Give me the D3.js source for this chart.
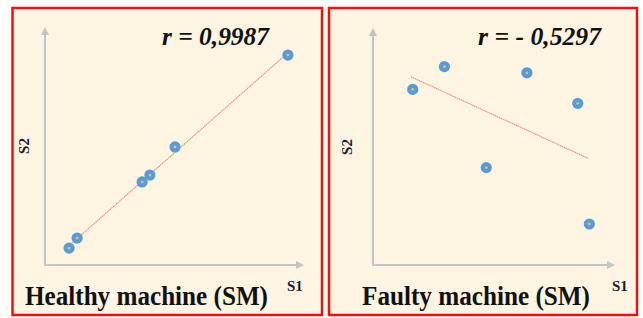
<!DOCTYPE html>
<html>
<head>
<meta charset="utf-8">
<script src="https://cdn.jsdelivr.net/npm/d3@7"></script>
<style>
  body { margin: 0; background: #ffffff; }
  svg { display: block; }
</style>
</head>
<body>
<div class="container-chart"></div>
<script>

// data (arbitrary units, 0..10 on both axes)
var healthyS1 = [0.93, 1.24, 3.75, 4.05, 5.02, 9.38];
var healthyS2 = [0.71, 1.13, 3.49, 3.78, 4.96, 8.82];
var faultyS1 = [1.64, 2.95, 6.36, 8.46, 4.68, 8.94];
var faultyS2 = [7.41, 8.37, 8.11, 6.82, 4.11, 1.73];

var panelTitles = ["Healthy machine (SM)", "Faulty machine (SM)"];
var rLabels = ["r = 0,9987", "r = - 0,5297"];
var axisLabels = ["S1", "S2"];

var width = 643;
var height = 318;

var svg = d3.select(".container-chart")
    .append("svg")
    .attr("width", width)
    .attr("height", height);

var panels = [
    { s1: healthyS1, s2: healthyS2, title: panelTitles[0], r: rLabels[0],
      box: [12.5, 8, 309.5, 307], xr: [45, 304], yr: [265, 27],
      rx: 162, rw: 107, tx: 25, tw: 243, s1x: 287, s2x: 29, s2y: 146 },
    { s1: faultyS1, s2: faultyS2, title: panelTitles[1], r: rLabels[1],
      box: [329, 8, 308, 307], xr: [373, 615], yr: [265, 28],
      rx: 478, rw: 123, tx: 362, tw: 228, s1x: 612, s2x: 352, s2y: 147 }
];

panels.forEach(drawPanel);

function drawPanel(p) {
    var g = svg.append("g");

    // panel background + red frame
    g.append("rect")
        .attr("x", p.box[0])
        .attr("y", p.box[1])
        .attr("width", p.box[2])
        .attr("height", p.box[3])
        .attr("fill", "#fdf4e1")
        .attr("stroke", "#ee1111")
        .attr("stroke-width", 2.5);

    var x = d3.scaleLinear().domain([0, 10]).range(p.xr);
    var y = d3.scaleLinear().domain([0, 10]).range(p.yr);

    // axes with arrow heads, no ticks
    var axisColor = "#c4c4c4";
    g.append("line")
        .attr("x1", x(0)).attr("y1", y(0))
        .attr("x2", x(10) - 6).attr("y2", y(0))
        .attr("stroke", axisColor).attr("stroke-width", 2);
    g.append("line")
        .attr("x1", x(0)).attr("y1", y(0) + 1)
        .attr("x2", x(0)).attr("y2", y(10) + 6)
        .attr("stroke", axisColor).attr("stroke-width", 2);
    g.append("path")
        .attr("d", "M" + x(10) + "," + y(0) + "l-8,-4l0,8z")
        .attr("fill", axisColor);
    g.append("path")
        .attr("d", "M" + x(0) + "," + y(10) + "l-4,8l8,0z")
        .attr("fill", axisColor);

    // least squares trend line across the data range
    var pts = p.s1.map(function (v, i) { return [v, p.s2[i]]; });
    var mx = d3.mean(p.s1), my = d3.mean(p.s2);
    var sxy = d3.sum(pts, function (d) { return (d[0] - mx) * (d[1] - my); });
    var sxx = d3.sum(pts, function (d) { return (d[0] - mx) * (d[0] - mx); });
    var slope = sxy / sxx;
    var x0 = d3.min(p.s1) - 0.07, x1 = d3.max(p.s1) - 0.05;
    g.append("line")
        .attr("x1", x(x0)).attr("y1", y(my + slope * (x0 - mx)))
        .attr("x2", x(x1)).attr("y2", y(my + slope * (x1 - mx)))
        .attr("stroke", "#f08a84")
        .attr("stroke-width", 1.1)
        .attr("stroke-dasharray", "1.5,0.6");

    // markers
    var m = g.selectAll(".pt")
        .data(pts)
        .enter()
        .append("g")
        .attr("class", "pt")
        .attr("transform", function (d) { return "translate(" + x(d[0]) + "," + y(d[1]) + ")"; });
    m.append("circle").attr("r", 5.6).attr("fill", "#5b9bd5");
    m.append("circle").attr("r", 1.4).attr("fill", "#dcc27c");

    // texts
    g.append("text")
        .attr("x", p.rx).attr("y", 45)
        .attr("textLength", p.rw)
        .attr("lengthAdjust", "spacingAndGlyphs")
        .style("font", "italic bold 26px 'Liberation Serif', serif")
        .attr("fill", "#111111")
        .text(p.r);

    g.append("text")
        .attr("x", p.tx).attr("y", 305)
        .attr("textLength", p.tw)
        .attr("lengthAdjust", "spacingAndGlyphs")
        .style("font", "bold 27px 'Liberation Serif', serif")
        .attr("fill", "#111111")
        .text(p.title);

    g.append("text")
        .attr("x", p.s1x).attr("y", 291)
        .style("font", "bold 15px 'Liberation Serif', serif")
        .attr("fill", "#1c1c30")
        .text(axisLabels[0]);

    g.append("text")
        .attr("transform", "translate(" + p.s2x + "," + p.s2y + ") rotate(-90)")
        .attr("text-anchor", "middle")
        .style("font", "bold 15px 'Liberation Serif', serif")
        .attr("fill", "#1c1c30")
        .text(axisLabels[1]);
}

</script>
</body>
</html>
